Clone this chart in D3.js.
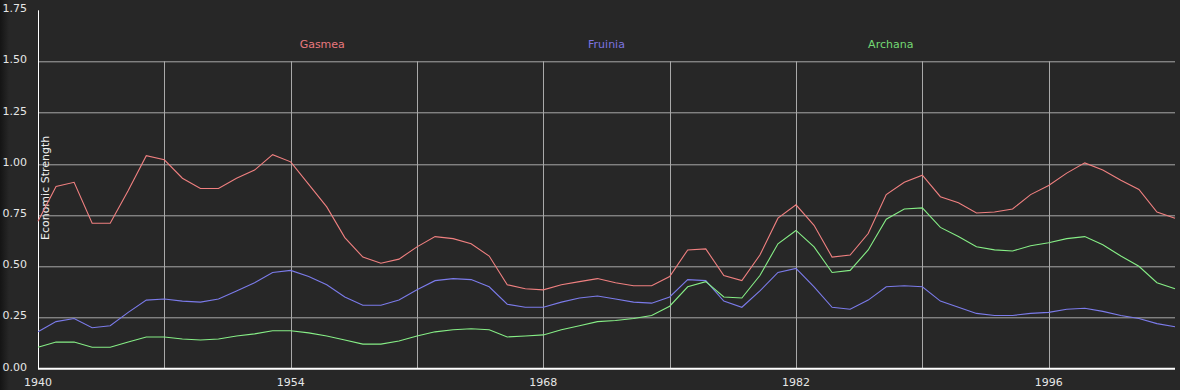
<!DOCTYPE html>
<html>
<head>
  <meta charset="utf-8">
  <title>Economic Strength</title>
  <style>
    html, body { margin: 0; padding: 0; background: #272727; }
    svg { display: block; }
    .tick-label { font-family: "DejaVu Sans", sans-serif; font-size: 11px; fill: #e6e6e6; }
    .series-label { font-family: "DejaVu Sans", sans-serif; font-size: 11px; }
  </style>
</head>
<body>
  <div class="chart"></div>
  <script src="https://cdn.jsdelivr.net/npm/d3@7"></script>
  <script>
    // yearly values
    var years = [1940, 1941, 1942, 1943, 1944, 1945, 1946, 1947, 1948, 1949,
      1950, 1951, 1952, 1953, 1954, 1955, 1956, 1957, 1958, 1959,
      1960, 1961, 1962, 1963, 1964, 1965, 1966, 1967, 1968, 1969,
      1970, 1971, 1972, 1973, 1974, 1975, 1976, 1977, 1978, 1979,
      1980, 1981, 1982, 1983, 1984, 1985, 1986, 1987, 1988, 1989,
      1990, 1991, 1992, 1993, 1994, 1995, 1996, 1997, 1998, 1999,
      2000, 2001, 2002, 2003];

    var gasmea = [0.72, 0.89, 0.91, 0.71, 0.71, 0.87, 1.04, 1.02, 0.93, 0.88,
      0.88, 0.93, 0.97, 1.045, 1.01, 0.90, 0.79, 0.64, 0.545, 0.515,
      0.535, 0.595, 0.645, 0.635, 0.61, 0.55, 0.41, 0.39, 0.385, 0.41,
      0.425, 0.44, 0.42, 0.405, 0.405, 0.45, 0.58, 0.585, 0.455, 0.43,
      0.555, 0.735, 0.80, 0.70, 0.545, 0.555, 0.66, 0.85, 0.91, 0.945,
      0.84, 0.81, 0.76, 0.765, 0.78, 0.85, 0.895, 0.955, 1.005, 0.97,
      0.92, 0.875, 0.765, 0.735];

    var fruinia = [0.18, 0.23, 0.245, 0.20, 0.21, 0.275, 0.335, 0.34, 0.33, 0.325,
      0.34, 0.38, 0.42, 0.47, 0.48, 0.45, 0.41, 0.35, 0.31, 0.31,
      0.335, 0.385, 0.43, 0.44, 0.435, 0.40, 0.315, 0.30, 0.30, 0.325,
      0.345, 0.355, 0.34, 0.325, 0.32, 0.35, 0.435, 0.43, 0.33, 0.30,
      0.38, 0.47, 0.49, 0.40, 0.30, 0.29, 0.335, 0.40, 0.405, 0.40,
      0.33, 0.30, 0.27, 0.26, 0.26, 0.27, 0.275, 0.29, 0.295, 0.28,
      0.26, 0.245, 0.22, 0.205];

    var archana = [0.105, 0.13, 0.13, 0.105, 0.105, 0.13, 0.155, 0.155, 0.145, 0.14,
      0.145, 0.16, 0.17, 0.185, 0.185, 0.175, 0.16, 0.14, 0.12, 0.12,
      0.135, 0.16, 0.18, 0.19, 0.195, 0.19, 0.155, 0.16, 0.165, 0.19,
      0.21, 0.23, 0.235, 0.245, 0.26, 0.305, 0.40, 0.425, 0.35, 0.345,
      0.455, 0.61, 0.675, 0.595, 0.47, 0.48, 0.58, 0.73, 0.78, 0.785,
      0.69, 0.645, 0.595, 0.58, 0.575, 0.60, 0.615, 0.635, 0.645, 0.605,
      0.55, 0.50, 0.42, 0.39];

    var seriesNames = ["Gasmea", "Fruinia", "Archana"];
    var seriesColors = ["#f08080", "#7b7bea", "#86ee86"];
    var labelColors = ["#e8787e", "#7c74e0", "#74d874"];

    var xTickLabels = [1940, 1954, 1968, 1982, 1996];
    var xGridYears = [1947, 1954, 1961, 1968, 1975, 1982, 1989, 1996];
    var yTicks = [0, 0.25, 0.5, 0.75, 1, 1.25, 1.5, 1.75];
    var yGrid = [0.25, 0.5, 0.75, 1, 1.25, 1.5];

    var W = 1180, H = 390;
    var margin = { top: 10.3, right: 5, bottom: 21.3, left: 38 },
      width = W - margin.left - margin.right,
      height = H - margin.top - margin.bottom;

    var svg = d3.select(".chart")
      .append("svg")
      .attr("width", W)
      .attr("height", H);

    // darker strip down the left edge
    var grad = svg.append("defs").append("linearGradient")
      .attr("id", "edge").attr("x1", 0).attr("x2", 1).attr("y1", 0).attr("y2", 0);
    grad.append("stop").attr("offset", "0%").attr("stop-color", "#141414");
    grad.append("stop").attr("offset", "100%").attr("stop-color", "#272727");

    svg.append("rect").attr("width", W).attr("height", H).attr("fill", "#272727");
    svg.append("rect").attr("width", 9).attr("height", H).attr("fill", "url(#edge)");

    var g = svg.append("g")
      .attr("transform", "translate(" + margin.left + "," + margin.top + ")");

    var x = d3.scaleLinear()
      .domain([years[0], years[years.length - 1]])
      .range([0, width]);

    var y = d3.scaleLinear()
      .domain([0, 1.75])
      .range([height, 0]);

    // grid
    g.append("g").selectAll("line")
      .data(yGrid)
      .enter().append("line")
      .attr("x1", 0).attr("x2", width)
      .attr("y1", function (d) { return Math.round(y(d)) + 0.5; })
      .attr("y2", function (d) { return Math.round(y(d)) + 0.5; })
      .style("stroke", "#a9a9a9")
      .style("stroke-width", 1);

    g.append("g").selectAll("line")
      .data(xGridYears)
      .enter().append("line")
      .attr("x1", function (d) { return Math.round(x(d)) + 0.5; })
      .attr("x2", function (d) { return Math.round(x(d)) + 0.5; })
      .attr("y1", Math.round(y(1.5)))
      .attr("y2", height)
      .style("stroke", "#a9a9a9")
      .style("stroke-width", 1);

    // axes
    g.append("line")
      .attr("x1", 0.5).attr("x2", 0.5)
      .attr("y1", 0).attr("y2", height)
      .style("stroke", "#ffffff").style("stroke-width", 1);

    g.append("line")
      .attr("x1", 0).attr("x2", width)
      .attr("y1", height).attr("y2", height)
      .style("stroke", "#ffffff").style("stroke-width", 2);

    g.append("g").selectAll("text")
      .data(yTicks)
      .enter().append("text")
      .attr("class", "tick-label")
      .attr("x", -11)
      .attr("y", function (d) { return y(d); })
      .attr("dy", "0.18em")
      .attr("text-anchor", "end")
      .text(function (d) { return d3.format(".2f")(d); });

    g.append("g").selectAll("text")
      .data(xTickLabels)
      .enter().append("text")
      .attr("class", "tick-label")
      .attr("x", function (d) { return x(d); })
      .attr("y", height + 17)
      .attr("text-anchor", "middle")
      .text(function (d) { return d; });

    g.append("text")
      .attr("class", "tick-label")
      .attr("transform", "translate(11," + (y(1.0) + 24) + ") rotate(-90)")
      .attr("text-anchor", "middle")
      .style("fill", "#f0f0f0")
      .text("Economic Strength");

    // lines
    var line = d3.line()
      .x(function (d, i) { return x(years[i]); })
      .y(function (d) { return y(d); });

    var allSeries = [gasmea, fruinia, archana];

    g.append("g").selectAll("path")
      .data(allSeries)
      .enter().append("path")
      .attr("d", line)
      .style("fill", "none")
      .style("stroke", function (d, i) { return seriesColors[i]; })
      .style("stroke-width", 1.1);

    // series names across the top
    g.append("g").selectAll("text")
      .data(seriesNames)
      .enter().append("text")
      .attr("class", "series-label")
      .attr("x", function (d, i) { return width * (i + 1) / 4; })
      .attr("y", 37.5)
      .attr("text-anchor", "middle")
      .style("fill", function (d, i) { return labelColors[i]; })
      .text(function (d) { return d; });
  </script>
</body>
</html>
